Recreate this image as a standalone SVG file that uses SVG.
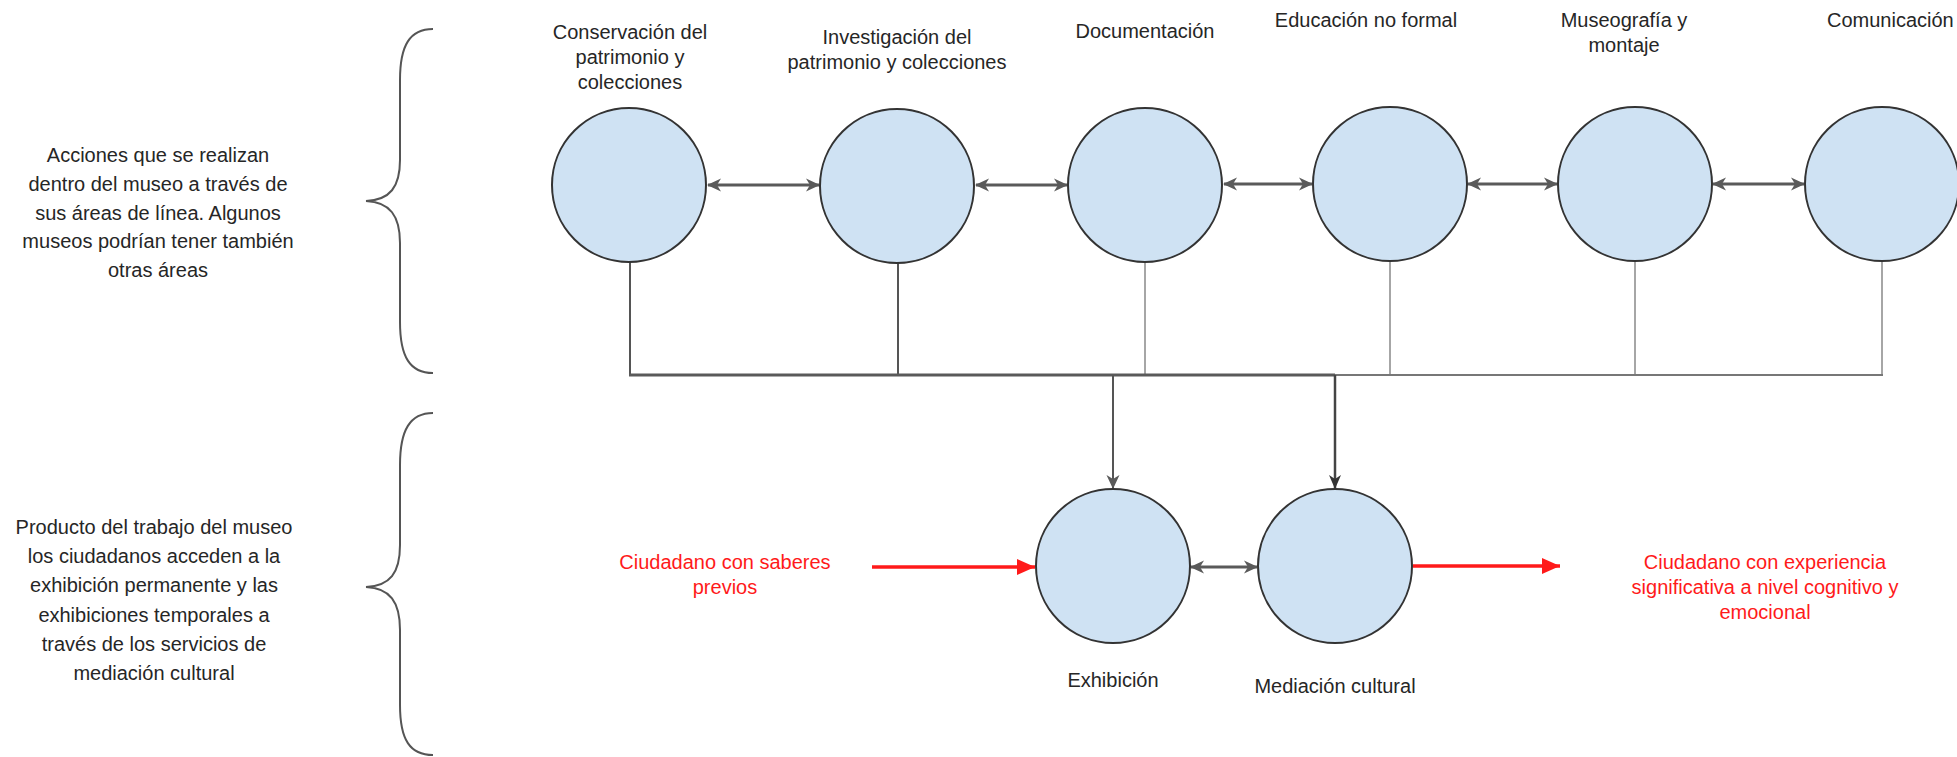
<svg xmlns="http://www.w3.org/2000/svg" width="1957" height="757" viewBox="0 0 1957 757">
<style>
text{font-family:"Liberation Sans",Arial,sans-serif;font-size:20px;fill:#262626;text-anchor:middle}
text.rt{fill:#ff1a1a}
.node circle{fill:#cfe2f3;stroke:#333;stroke-width:2}
.brace{fill:none;stroke:#555;stroke-width:2}
.bi{stroke:#5a5a5a;stroke-width:3;fill:none;marker-start:url(#ah);marker-end:url(#ah)}
.drop{stroke:#555;stroke-width:2;fill:none}
.drop2{stroke:#888;stroke-width:1.5;fill:none}
.rl{stroke:#ff1a1a;stroke-width:3.5;fill:none}
</style>
<defs>
<marker id="ah" viewBox="0 0 14 14" refX="13" refY="7" markerWidth="14" markerHeight="14" orient="auto-start-reverse" markerUnits="userSpaceOnUse">
<path d="M0,0.5 L14,7 L0,13.5 L4,7 z" fill="#5a5a5a"/>
</marker>
<marker id="ahd" viewBox="0 0 14 14" refX="13" refY="7" markerWidth="14" markerHeight="14" orient="auto" markerUnits="userSpaceOnUse">
<path d="M0,1 L14,7 L0,13 L4,7 z" fill="#333"/>
</marker>
<marker id="ar" viewBox="0 0 18 16" refX="18" refY="8" markerWidth="18" markerHeight="16" orient="auto" markerUnits="userSpaceOnUse">
<path d="M0,0 L18,8 L0,16 z" fill="#ff1a1a"/>
</marker>
</defs>

<g id="brace-top">
<path class="brace" d="M433,29 C410,29 400,45 400,80 L400,160 C400,187 390,200 366,201 C390,202 400,216 400,243 L400,322 C400,357 410,373 433,373"/>
</g>
<g id="brace-bottom">
<path class="brace" d="M433,413 C410,413 400,430 400,465 L400,545 C400,573 390,586 366,587 C390,588 400,602 400,630 L400,705 C400,740 410,755 433,755"/>
</g>

<g id="label-acciones">
<text x="158" y="162">Acciones que se realizan</text>
<text x="158" y="191">dentro del museo a través de</text>
<text x="158" y="220">sus áreas de línea. Algunos</text>
<text x="158" y="248">museos podrían tener también</text>
<text x="158" y="277">otras áreas</text>
</g>
<g id="label-producto">
<text x="154" y="534">Producto del trabajo del museo</text>
<text x="154" y="563">los ciudadanos acceden a la</text>
<text x="154" y="592">exhibición permanente y las</text>
<text x="154" y="622">exhibiciones temporales a</text>
<text x="154" y="651">través  de los servicios de</text>
<text x="154" y="680">mediación cultural</text>
</g>

<g id="connectors">
<line class="drop" x1="630" y1="262" x2="630" y2="375"/>
<line class="drop" x1="898" y1="263" x2="898" y2="375"/>
<line class="drop2" x1="1145" y1="262" x2="1145" y2="375"/>
<line class="drop2" x1="1390" y1="261" x2="1390" y2="375"/>
<line class="drop2" x1="1635" y1="262" x2="1635" y2="375"/>
<line class="drop2" x1="1882" y1="262" x2="1882" y2="375"/>
<line x1="629" y1="375" x2="1335" y2="375" stroke="#5a5a5a" stroke-width="3"/>
<line x1="1335" y1="375" x2="1883" y2="375" stroke="#777" stroke-width="2"/>
<line x1="1113" y1="375" x2="1113" y2="488" stroke="#555" stroke-width="2" marker-end="url(#ah)"/>
<line x1="1335" y1="375" x2="1335" y2="488" stroke="#444" stroke-width="2.5" marker-end="url(#ahd)"/>
<line class="bi" x1="708" y1="185" x2="819" y2="185"/>
<line class="bi" x1="976" y1="185" x2="1067" y2="185"/>
<line class="bi" x1="1224" y1="184" x2="1312" y2="184"/>
<line class="bi" x1="1468" y1="184" x2="1557" y2="184"/>
<line class="bi" x1="1713" y1="184" x2="1804" y2="184"/>
<line class="bi" x1="1191" y1="567" x2="1257" y2="567"/>
<line class="rl" x1="872" y1="567" x2="1035" y2="567" marker-end="url(#ar)"/>
<line class="rl" x1="1413" y1="566" x2="1560" y2="566" marker-end="url(#ar)"/>
</g>

<g id="node-conservacion" class="node">
<circle cx="629" cy="185" r="77"/>
<text x="630" y="39">Conservación del</text>
<text x="630" y="64">patrimonio y</text>
<text x="630" y="89">colecciones</text>
</g>
<g id="node-investigacion" class="node">
<circle cx="897" cy="186" r="77"/>
<text x="897" y="44">Investigación del</text>
<text x="897" y="69">patrimonio  y colecciones</text>
</g>
<g id="node-documentacion" class="node">
<circle cx="1145" cy="185" r="77"/>
<text x="1145" y="38">Documentación</text>
</g>
<g id="node-educacion" class="node">
<circle cx="1390" cy="184" r="77"/>
<text x="1366" y="27">Educación no formal</text>
</g>
<g id="node-museografia" class="node">
<circle cx="1635" cy="184" r="77"/>
<text x="1624" y="27">Museografía y</text>
<text x="1624" y="52">montaje</text>
</g>
<g id="node-comunicacion" class="node">
<circle cx="1882" cy="184" r="77"/>
<text x="1827" y="27" style="text-anchor:start">Comunicación</text>
</g>
<g id="node-exhibicion" class="node">
<circle cx="1113" cy="566" r="77"/>
<text x="1113" y="687">Exhibición</text>
</g>
<g id="node-mediacion" class="node">
<circle cx="1335" cy="566" r="77"/>
<text x="1335" y="693">Mediación cultural</text>
</g>

<g id="label-saberes">
<text class="rt" x="725" y="569">Ciudadano con saberes</text>
<text class="rt" x="725" y="594">previos</text>
</g>
<g id="label-experiencia">
<text class="rt" x="1765" y="569">Ciudadano con experiencia</text>
<text class="rt" x="1765" y="594">significativa a nivel cognitivo y</text>
<text class="rt" x="1765" y="619">emocional</text>
</g>
</svg>
